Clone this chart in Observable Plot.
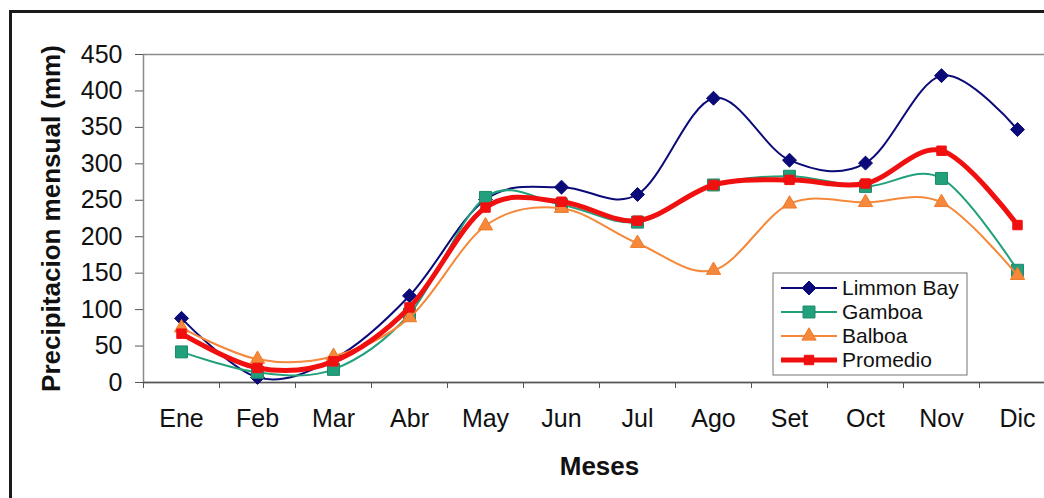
<!DOCTYPE html>
<html>
<head>
<meta charset="utf-8">
<script src="https://cdn.jsdelivr.net/npm/d3@7"></script>
<script src="https://cdn.jsdelivr.net/npm/@observablehq/plot@0.6"></script>
<style>
  html, body { margin: 0; padding: 0; background: #fff; overflow: hidden; }
  #wrap { position: relative; width: 1044px; height: 498px; overflow: hidden; }
  #border { position: absolute; left: 9px; top: 10px; width: 1100px; height: 600px; border: 3px solid #1a1a1a; box-sizing: border-box; pointer-events: none; }
  #chart { position: absolute; left: 0; top: 0; }
</style>
</head>
<body>
<div id="wrap"><div id="border"></div><div id="chart"></div></div>
<script>
const months = ["Ene","Feb","Mar","Abr","May","Jun","Jul","Ago","Set","Oct","Nov","Dic"];
const limmonBay = [88, 7, 32, 119, 251, 268, 258, 390, 305, 301, 421, 347];
const gamboa    = [42, 14, 18, 94, 254, 244, 220, 271, 283, 269, 280, 154];
const balboa    = [75, 32, 36, 89, 215, 239, 191, 154, 245, 247, 247, 147];
const promedio  = [67, 20, 29, 103, 240, 248, 222, 271, 278, 273, 318, 216];
const seriesNames = ["Limmon Bay", "Gamboa", "Balboa", "Promedio"];
const yTicks = [0, 50, 100, 150, 200, 250, 300, 350, 400, 450];
const yTitle = "Precipitacion mensual (mm)";
const xTitle = "Meses";

const styles = [
  {name: seriesNames[0], vals: limmonBay, color: "#0a0a78", width: 2, symbol: "diamond2", r: 6.3, mstroke: "#0a0a78"},
  {name: seriesNames[1], vals: gamboa, color: "#22a07c", width: 2, symbol: "square2", r: 7.6, mstroke: "#1b8a69"},
  {name: seriesNames[2], vals: balboa, color: "#f5883a", width: 2, symbol: "triangle2", r: 6.8, mstroke: "#f07a28"},
  {name: seriesNames[3], vals: promedio, color: "#f01010", width: 5, symbol: "square2", r: 6, mstroke: "#f01010"}
];

const marks = [
  Plot.frame({stroke: "#8a8a8a", strokeWidth: 1.5}),
  Plot.ruleY([0], {stroke: "#555", strokeWidth: 1.5}),
  Plot.axisY({ticks: yTicks, tickSize: 8, tickPadding: 13, label: null, stroke: "#555", fontSize: 25}),
  Plot.axisX({ticks: d3.range(0.5, 13, 1), tickSize: 6, tickFormat: () => "", label: null, stroke: "#555"}),
  Plot.axisX({ticks: d3.range(1, 13), tickSize: 0, tickPadding: 27, tickFormat: d => months[d - 1], label: null, fontSize: 25}),
  Plot.text([yTitle], {frameAnchor: "left", dx: -92, rotate: -90, fontWeight: "bold", fontSize: 26, textAnchor: "middle", lineAnchor: "middle"}),
  Plot.text([xTitle], {frameAnchor: "bottom", dy: 84, fontWeight: "bold", fontSize: 26, textAnchor: "middle", lineAnchor: "middle"})
];

for (const s of styles) {
  const rows = s.vals.map((v, i) => ({m: i + 1, v}));
  marks.push(Plot.line(rows, {x: "m", y: "v", curve: "cardinal", tension: 0, stroke: s.color, strokeWidth: s.width}));
  marks.push(Plot.dot(rows, {x: "m", y: "v", symbol: s.symbol, r: s.r, fill: s.color, stroke: s.mstroke, strokeWidth: 1}));
}

const plot = Plot.plot({
  width: 1044,
  height: 498,
  marginLeft: 143,
  marginTop: 54,
  marginBottom: 116,
  marginRight: -11,
  style: {fontFamily: "'Liberation Sans', Arial, sans-serif", fontSize: "24px", background: "transparent", color: "#111"},
  x: {type: "linear", domain: [0.5, 12.5]},
  y: {domain: [0, 450]},
  marks
});
document.getElementById("chart").appendChild(plot);

// Legend
const svg = d3.select(plot);
const lg = svg.append("g")
  .attr("font-family", "'Liberation Sans', Arial, sans-serif")
  .attr("font-size", 21)
  .attr("text-anchor", "start");
lg.append("rect").attr("x", 773).attr("y", 273).attr("width", 194).attr("height", 102)
  .attr("fill", "#fff").attr("stroke", "#8a8a8a").attr("stroke-width", 1.2);
const symMap = {diamond2: d3.symbolDiamond2, square2: d3.symbolSquare2, triangle2: d3.symbolTriangle2};
styles.forEach((s, k) => {
  const y = 288 + k * 24;
  lg.append("line").attr("x1", 781).attr("x2", 837).attr("y1", y).attr("y2", y)
    .attr("stroke", s.color).attr("stroke-width", s.width);
  lg.append("path").attr("transform", `translate(809,${y})`)
    .attr("d", d3.symbol(symMap[s.symbol], s.r * s.r * Math.PI)())
    .attr("fill", s.color).attr("stroke", s.mstroke);
  lg.append("text").attr("x", 842).attr("y", y).attr("dy", "0.35em")
    .attr("text-anchor", "start").attr("fill", "#111").text(s.name);
});
</script>
</body>
</html>
